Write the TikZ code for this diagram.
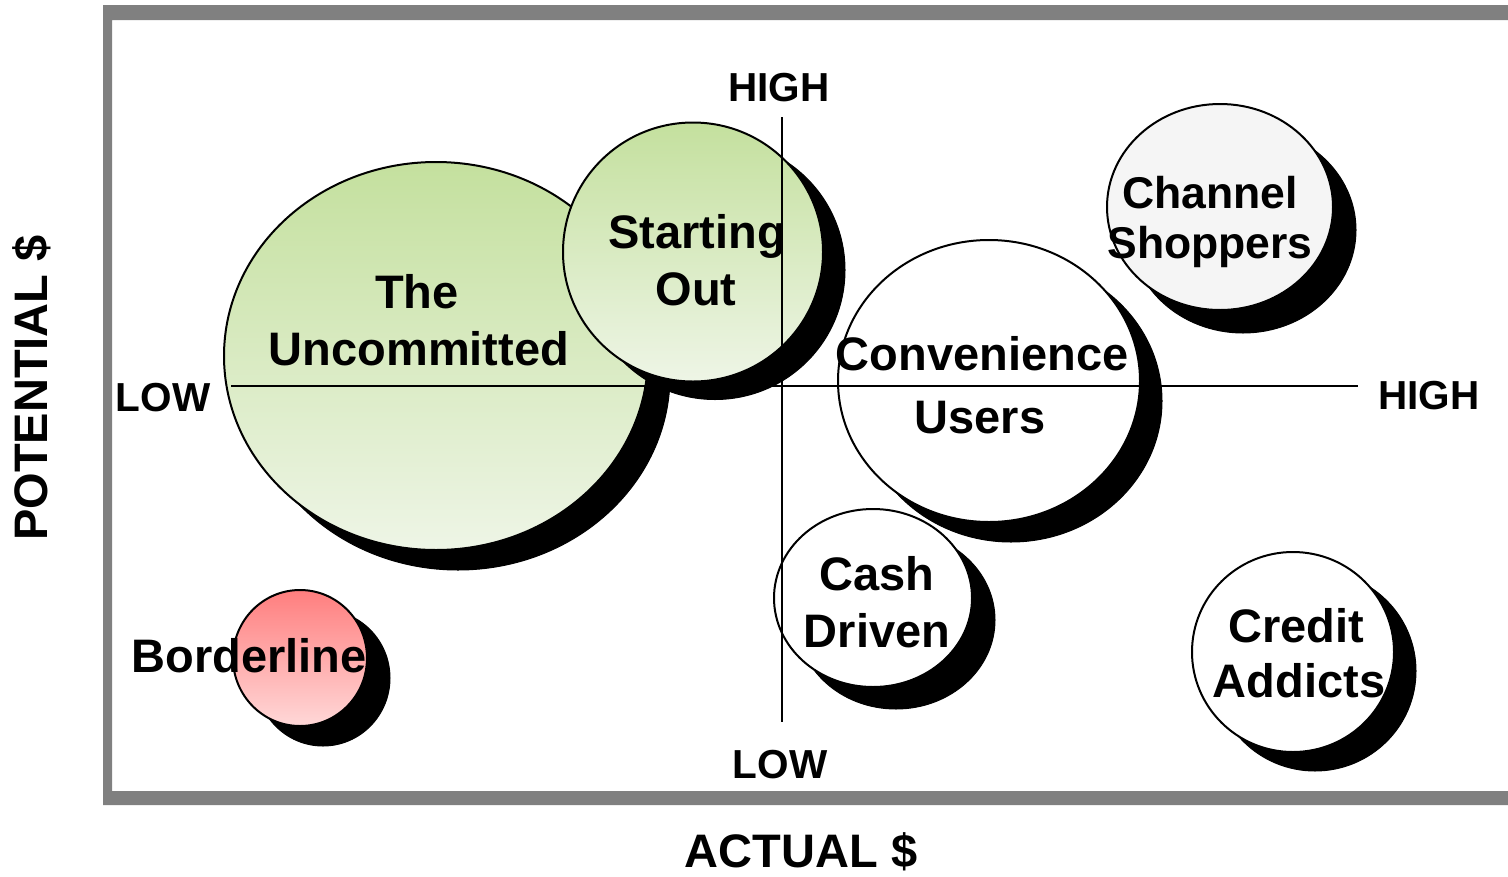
\documentclass[tikz,border=0pt]{standalone}
\usepackage{fontspec}
\setmainfont{Liberation Sans}
\usetikzlibrary{shapes.geometric}
\definecolor{framegray}{RGB}{128,128,128}
\definecolor{greentop}{RGB}{196,224,158}
\definecolor{greenbot}{RGB}{238,245,230}
\definecolor{pinktop}{RGB}{255,126,126}
\definecolor{pinkbot}{RGB}{255,216,216}
\definecolor{paleg}{RGB}{245,245,245}
\tikzset{
  bub/.style={ellipse, draw=black, line width=2pt, inner sep=0pt, fill=white},
  greenbub/.style={bub, top color=greentop, bottom color=greenbot},
  pinkbub/.style={bub, top color=pinktop, bottom color=pinkbot},
  shad/.style={ellipse, fill=black, draw=black, line width=1pt, inner sep=0pt},
  lbl/.style={font=\fontsize{47}{56}\selectfont\bfseries, anchor=base, inner sep=0pt},
  lblsm/.style={font=\fontsize{44.5}{52}\selectfont\bfseries, anchor=base, inner sep=0pt},
  axl/.style={font=\fontsize{40.5}{48}\selectfont\bfseries, anchor=base, inner sep=0pt},
  axt/.style={font=\fontsize{47}{55}\selectfont\bfseries, anchor=base, inner sep=0pt},
  axis/.style={draw=black, line width=2pt},
}
\begin{document}
\begin{tikzpicture}[x=1pt,y=-1pt]
\useasboundingbox (0,0) rectangle (1508,876);
\fill[white] (0,0) rectangle (1508,876);
% frame
\fill[framegray, even odd rule] (103,5) rectangle (1508,805) (112,20) rectangle (1508,791);

% The Uncommitted
\node[shad, minimum width=424pt, minimum height=388pt] (uncS) at (458,376) {};
\node[greenbub, minimum width=424pt, minimum height=388pt] (unc) at (436,356) {};
% Starting Out
\node[shad, minimum width=260pt, minimum height=259pt] (staS) at (715,270) {};
\node[greenbub, minimum width=260pt, minimum height=259pt] (sta) at (693,252) {};
% Channel Shoppers
\node[shad, minimum width=226pt, minimum height=206pt] (chaS) at (1243,230) {};
\node[bub, fill=paleg, minimum width=226pt, minimum height=206pt] (cha) at (1220,207) {};
% Convenience Users
\node[shad, minimum width=302pt, minimum height=282pt] (conS) at (1011,401) {};
\node[bub, minimum width=302pt, minimum height=282pt] (con) at (989,381) {};
% Cash Driven
\node[shad, minimum width=198pt, minimum height=178pt] (casS) at (896,620) {};
\node[bub, minimum width=198pt, minimum height=178pt] (cas) at (873,598) {};
% Credit Addicts
\node[shad, minimum width=202pt, minimum height=200pt] (creS) at (1315,671) {};
\node[bub, minimum width=202pt, minimum height=200pt] (cre) at (1293,652) {};
% Borderline
\node[shad, minimum width=134pt, minimum height=136pt] (borS) at (323,678) {};
\node[pinkbub, minimum width=134pt, minimum height=136pt] (bor) at (300,658) {};

% axes
\coordinate (vtop) at (782,117);
\coordinate (vbot) at (782,722);
\coordinate (hl) at (231,386);
\coordinate (hr) at (1358,386);
\draw[axis] (vtop) -- (vbot);
\draw[axis] (hl) -- (hr);

% axis labels
\node[axl] (hightop) at (779,101) {HIGH};
\node[axl] (lowbot) at (780,778) {LOW};
\node[axl] (lowleft) at (163,411) {LOW};
\node[axl] (highright) at (1429,409) {HIGH};
\node[axt] (actual) at (801,867) {ACTUAL \$};
\node[axt, rotate=90] (potential) at (47,388) {POTENTIAL \$};

% bubble texts
\node[lbl] (t1a) at (417,308) {The};
\node[lbl] (t1b) at (419,365) {Uncommitted};
\node[lbl] (t2a) at (697,248) {Starting};
\node[lbl] (t2b) at (696,305) {Out};
\node[lblsm] (t3a) at (1210,208) {Channel};
\node[lblsm] (t3b) at (1210,258) {Shoppers};
\node[lbl] (t4a) at (982,370) {Convenience};
\node[lbl] (t4b) at (980,433) {Users};
\node[lbl] (t5a) at (877,590) {Cash};
\node[lbl] (t5b) at (877,647) {Driven};
\node[lbl] (t6a) at (1296,642) {Credit};
\node[lbl] (t6b) at (1299,697) {Addicts};
\node[lbl] (t7) at (249,672) {Borderline};
\end{tikzpicture}
\end{document}
